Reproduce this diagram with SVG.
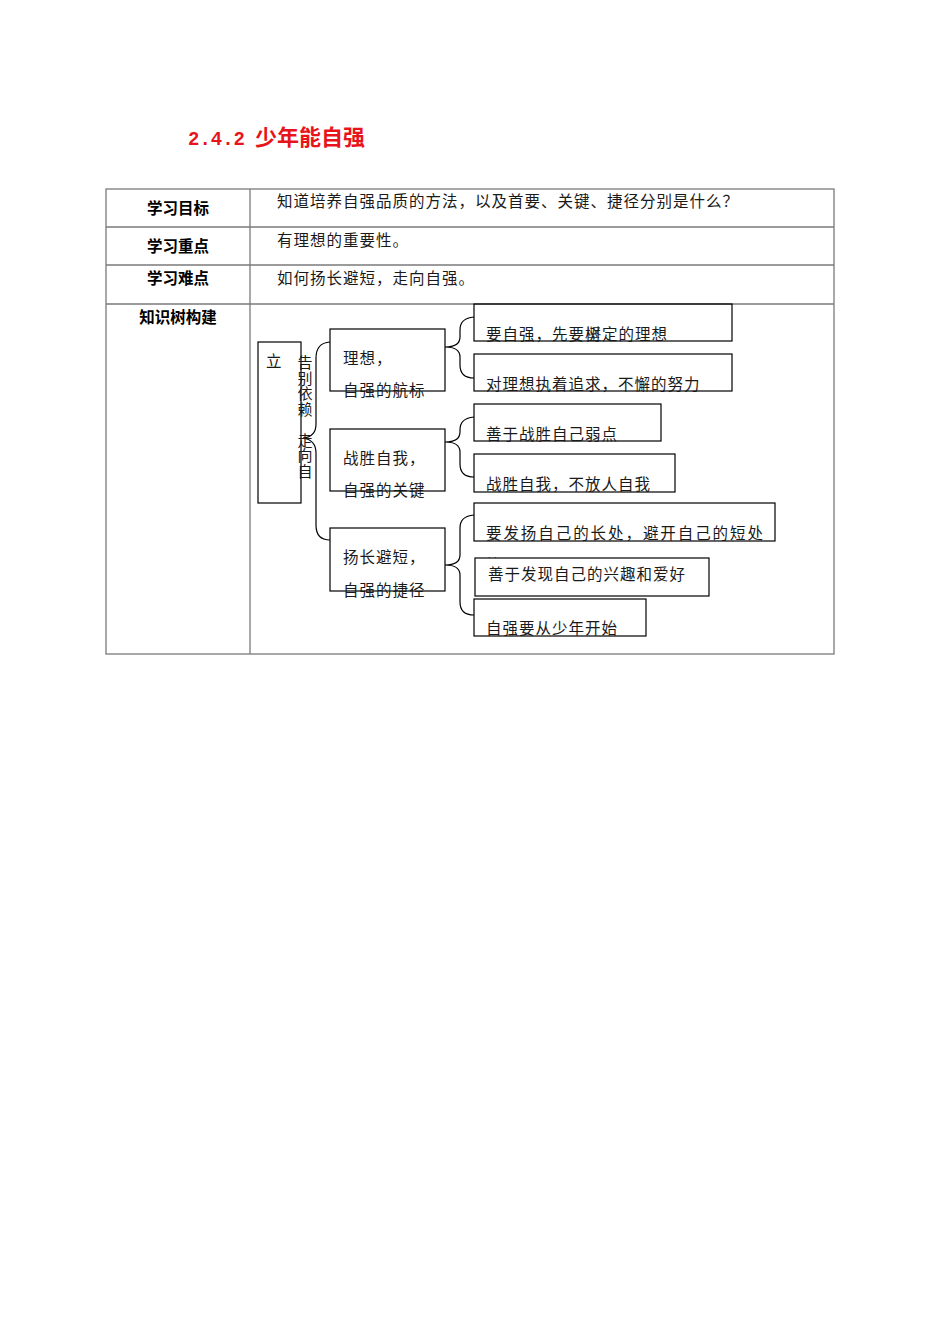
<svg xmlns="http://www.w3.org/2000/svg" width="950" height="1344" viewBox="0 0 950 1344">
<style>
.t{font-family:"Noto Sans CJK SC","Noto Sans",sans-serif;font-size:15.5px;fill:#1a1a1a;letter-spacing:1px}
.v{font-family:"Noto Sans CJK SC","Noto Sans",sans-serif;font-size:15px;fill:#1a1a1a;writing-mode:vertical-rl;letter-spacing:0.5px}
.h{font-family:"Noto Sans CJK SC","Noto Sans",sans-serif;font-size:15.5px;font-weight:bold;fill:#000;text-anchor:middle}
.grid{stroke:#7a7a7a;stroke-width:1.3;fill:none}
.box{stroke:#000;stroke-width:1.2;fill:none}
.wbox{stroke:#000;stroke-width:1.2;fill:#fff}
.br{stroke:#000;stroke-width:1.2;fill:none}
</style>
<defs>
<clipPath id="cut"><rect x="470" y="545" width="60" height="13"/></clipPath>
</defs>
<rect width="950" height="1344" fill="#fff"/>
<g id="title">
<text x="188" y="145" fill="#e8141b" font-family="Liberation Mono,monospace" font-size="21" font-weight="bold" textLength="57" lengthAdjust="spacingAndGlyphs">2.4.2</text>
<text x="255" y="145" fill="#e8141b" font-family="Noto Sans CJK SC,sans-serif" font-size="22" font-weight="bold">少年能自强</text>
</g>
<g id="table">
<rect class="grid" x="106" y="189" width="728" height="465"/>
<line class="grid" x1="250" y1="189" x2="250" y2="654"/>
<line class="grid" x1="106" y1="227" x2="834" y2="227"/>
<line class="grid" x1="106" y1="265" x2="834" y2="265"/>
<line class="grid" x1="106" y1="304" x2="834" y2="304"/>
<text class="h" x="178" y="214">学习目标</text>
<text class="h" x="178" y="252">学习重点</text>
<text class="h" x="178" y="284">学习难点</text>
<text class="h" x="178" y="323">知识树构建</text>
<text class="t" x="277" y="207">知道培养自强品质的方法，以及首要、关键、捷径分别是什么？</text>
<text class="t" x="277" y="246">有理想的重要性。</text>
<text class="t" x="277" y="284">如何扬长避短，走向自强。</text>
</g>
<g id="connectors">
<path class="br" d="M330,342 Q316,343 316,358 L316,424 Q316,437 303,438 Q316,440 316,453 L316,525 Q316,540 330,540"/>
<path class="br" d="M474,317 Q460,318 460,330 L460,337 Q460,347 445,347 Q460,347 460,357 L460,365 Q460,378 474,378"/>
<path class="br" d="M474,417 Q460,418 460,430 L460,432 Q460,442 445,442 Q460,442 460,452 L460,464 Q460,477 474,477"/>
<path class="br" d="M474,515 Q460,516 460,528 L460,555 Q460,565 445,565 Q460,565 460,575 L460,602 Q460,615 474,615"/>
</g>
<g id="root">
<rect class="box" x="258" y="342" width="43" height="161"/>
<text class="t" x="266" y="367">立</text>
<text class="v" x="305" y="355">告别依赖　走向自</text>
</g>
<g id="n-lixiang">
<rect class="box" x="330" y="329" width="115" height="62"/>
<text class="t" x="343" y="364">理想，</text>
<text class="t" x="343" y="396">自强的航标</text>
</g>
<g id="n-zhansheng">
<rect class="box" x="330" y="429" width="115" height="62"/>
<text class="t" x="343" y="464">战胜自我，</text>
<text class="t" x="343" y="496">自强的关键</text>
</g>
<g id="n-yangchang">
<rect class="box" x="330" y="528" width="115" height="63"/>
<text class="t" x="343" y="563">扬长避短，</text>
<text class="t" x="343" y="596">自强的捷径</text>
</g>
<g id="l1">
<rect class="box" x="474" y="304" width="258" height="37"/>
<text class="t" x="486" y="340">要自强，先要</text>
<text class="t" x="585" y="340">树</text>
<text class="t" x="586" y="340" opacity="0.8">坚</text>
<text class="t" x="602" y="340">定的理想</text>
</g>
<g id="l2">
<rect class="box" x="474" y="354" width="258" height="37"/>
<text class="t" x="486" y="390">对理想执着追求，不懈的努力</text>
</g>
<g id="l3">
<rect class="box" x="474" y="404" width="187" height="37"/>
<text class="t" x="486" y="440">善于战胜自己弱点</text>
</g>
<g id="l4">
<rect class="box" x="474" y="454" width="201" height="38"/>
<text class="t" x="486" y="490">战胜自我，不放人自我</text>
</g>
<g id="l5">
<rect class="box" x="474" y="503" width="301" height="38"/>
<text class="t" x="486" y="539" textLength="278" lengthAdjust="spacing">要发扬自己的长处，避开自己的短处</text>
<text class="t" x="486" y="571" clip-path="url(#cut)">等</text>
</g>
<g id="l6">
<rect class="wbox" x="475" y="558" width="234" height="38"/>
<text class="t" x="488" y="580">善于发现自己的兴趣和爱好</text>
</g>
<g id="l7">
<rect class="box" x="474" y="599" width="172" height="37"/>
<text class="t" x="486" y="634">自强要从少年开始</text>
</g>
</svg>
